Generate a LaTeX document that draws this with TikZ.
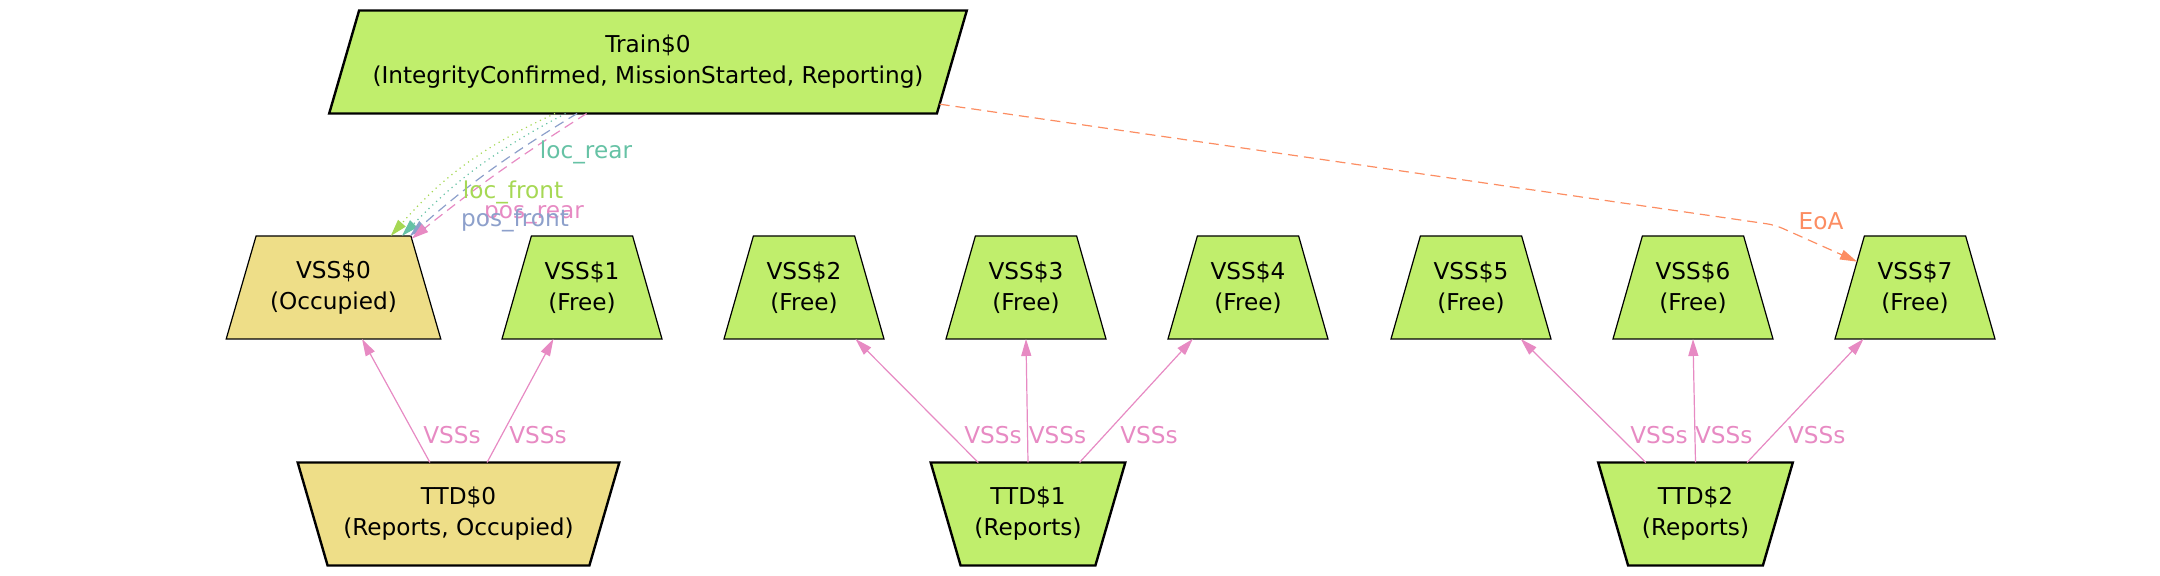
\documentclass[tikz,border=0pt]{standalone}
\usepackage{fontspec}
\setmainfont{DejaVu Sans}
\usetikzlibrary{shapes.geometric,arrows.meta}
\definecolor{freegreen}{RGB}{192,238,108}
\definecolor{occyellow}{RGB}{238,222,136}
\definecolor{sTeal}{HTML}{66C2A5}
\definecolor{sOrange}{HTML}{FC8D62}
\definecolor{sBlue}{HTML}{8DA0CB}
\definecolor{sPink}{HTML}{E78AC3}
\definecolor{sGreen}{HTML}{A6D854}

\begin{document}
\begin{tikzpicture}[
      x=0.5pt, y=-0.5pt,
      font=\fontsize{11.6}{15.5}\selectfont,
      every node/.style={align=center, inner sep=2pt, outer sep=0pt},
      box/.style={trapezium, trapezium stretches body, draw,
        trapezium left angle=73.7, trapezium right angle=73.7,
        inner ysep=12.2pt, minimum height=51.5pt, fill=freegreen},
      vss/.style={box, line width=0.6pt, minimum width=80pt},
      ttd/.style={box, line width=1.2pt, minimum width=97.3pt,
        trapezium left angle=106.3, trapezium right angle=106.3},
      occ/.style={fill=occyellow},
      tip/.style={-{Triangle[length=8.5pt,width=5pt]}, line width=0.6pt},
      dashline/.style={dash pattern=on 5pt off 3pt},
      lbl/.style={inner sep=0pt},
      vssedge/.style={tip, sPink}
    ]
    \useasboundingbox (0,0) rectangle (2160,576);
    \node (train) [box, line width=1.2pt, trapezium right angle=106.3,
      minimum width=318.8pt] at (648,62)
      {Train\$0\\(IntegrityConfirmed, MissionStarted, Reporting)};
    \node (v0) [vss, occ, minimum width=107.3pt] at (333.5,287.5) {VSS\$0\\(Occupied)};
    \foreach \i/\x in {1/582,2/804,3/1026,4/1248,5/1471,6/1693,7/1915}
      \node (v\i) [vss] at (\x,287.5) {VSS\$\i\\(Free)};
    \node (t0) [ttd, occ, minimum width=160.8pt] at (458.5,514) {TTD\$0\\(Reports, Occupied)};
    \node (t1) [ttd] at (1028,514) {TTD\$1\\(Reports)};
    \node (t2) [ttd] at (1695.5,514) {TTD\$2\\(Reports)};
    \foreach \a/\sa/\b/\ea/\lx [count=\n] in {t0/119/v0/299/452, t0/61.5/v1/241.5/538,
        t1/134.6/v2/315/993, t1/90/v3/270/1057.5, t1/45.7/v4/223/1149,
        t2/134.9/v5/314.7/1659, t2/90/v6/270/1723.7, t2/45.6/v7/225.8/1816.7}
    {
      \draw[vssedge] (\a.\sa) -- (\b.\ea);
      \node (s\n) [lbl, sPink] at (\lx,435) {VSSs};
    }
    \draw[tip, sGreen, dotted] (train.209.4) to[bend right=12] (v0.42);
    \draw[tip, sTeal, dotted] (train.212.3) to[bend right=9] (v0.37);
    \draw[tip, sBlue, dashline] (train.216.4) to[bend right=5] (v0.34);
    \draw[tip, sPink, dashline] (train.220.7) to[bend right=3] (v0.32);
    \node (lrear) [lbl, sTeal] at (586,152) {loc\_rear};
    \node (lfront) [lbl, sGreen] at (513,192) {loc\_front};
    \node (prear) [lbl, sPink] at (534,215) {pos\_rear};
    \node (pfront) [lbl, sBlue] at (515,220) {pos\_front};
    \coordinate (eoabend) at (1775,225);
    \draw[tip, sOrange, dashline, rounded corners=4pt] (train) -- (eoabend) -- (v7);
    \node (eoa) [lbl, sOrange] at (1821,221) {EoA};
  \end{tikzpicture}
\end{document}
